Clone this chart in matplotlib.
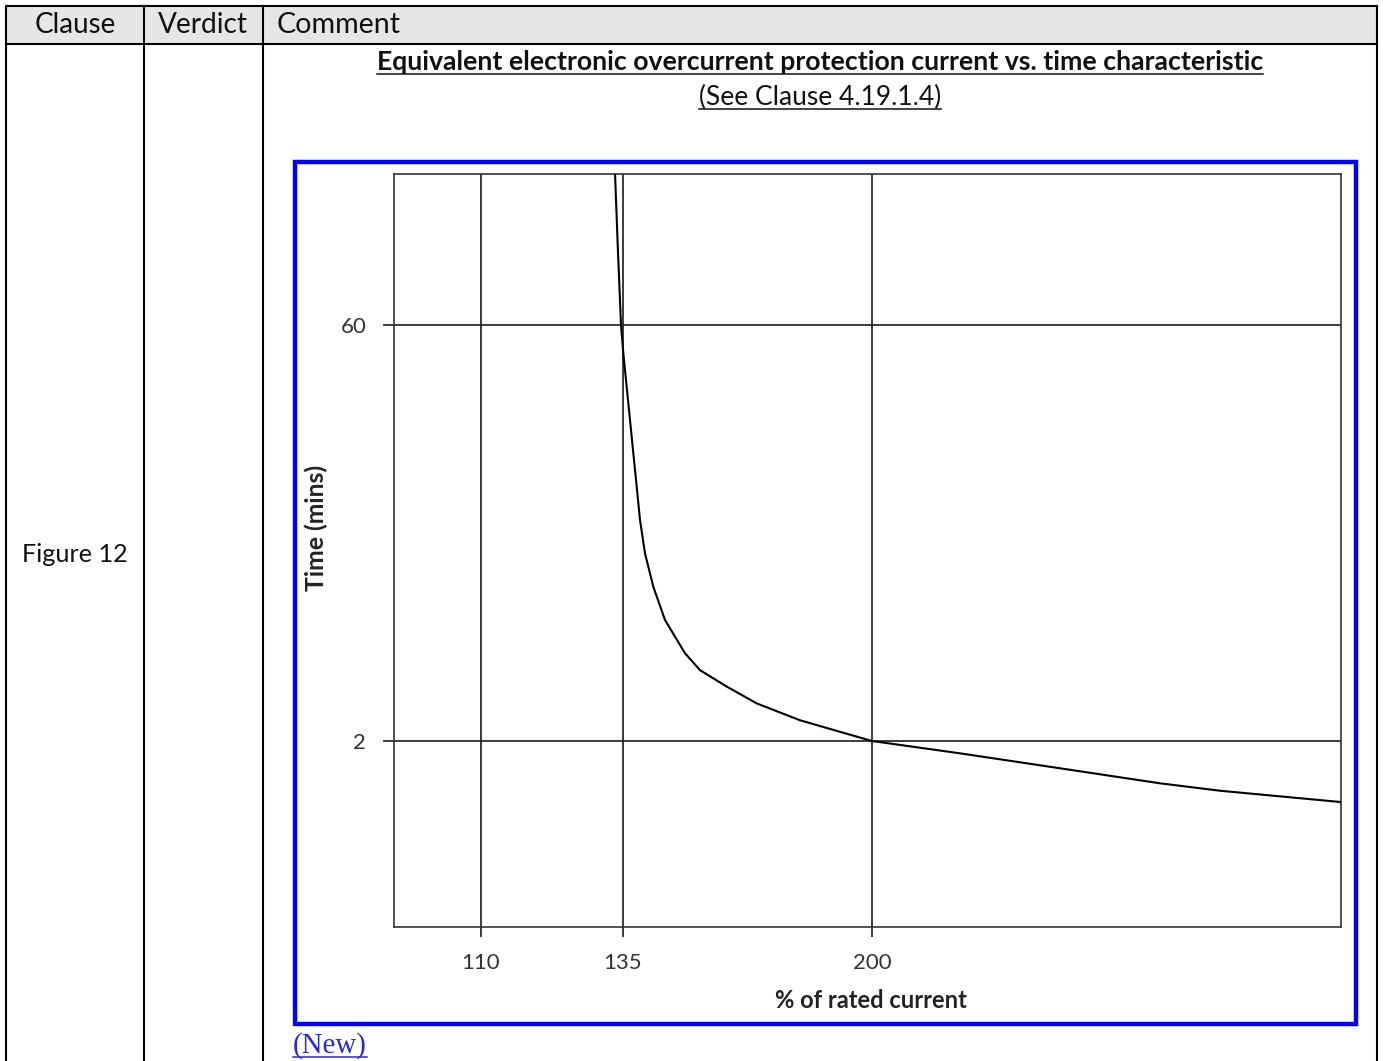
import numpy as np
import matplotlib.pyplot as plt
from matplotlib.patches import Rectangle
from matplotlib.ticker import NullLocator, FixedLocator, FixedFormatter

# readings: % of rated current vs trip time (minutes)
current_pct = [133.6, 134.1, 134.65, 135.09, 135.96, 136.83, 137.7, 138.58,
               139.44, 140.74, 142.91, 145.96, 151.18, 155.1, 162.1, 169.9,
               181.2, 189.9, 200.0, 223.0, 249.1, 275.2, 290.8, 322.4]
time_min = [206, 111, 60, 47.6, 36.2, 27.6, 21.0, 16.0,
            12.19, 9.28, 7.06, 5.38, 4.10, 3.57, 3.12, 2.72,
            2.37, 2.19, 2.0, 1.808, 1.60, 1.415, 1.332, 1.214]

x_ticks = [110, 135, 200]
y_ticks = [2, 60]

headers = ['Clause', 'Verdict', 'Comment']
title = 'Equivalent electronic overcurrent protection current vs. time characteristic'
subtitle = '(See Clause 4.19.1.4)'
clause_text = 'Figure 12'

W, H = 1383, 1061
FONT = 'Lato'


def fwd(v):
    # schematic current axis: 110-135 stretched, linear above 135
    v = np.asarray(v, dtype=float)
    return np.where(v < 135, 623 + (v - 135) * 142 / 25, 623 + (v - 135) * 249 / 65)


def inv(p):
    p = np.asarray(p, dtype=float)
    return np.where(p < 623, 135 + (p - 623) * 25 / 142, 135 + (p - 623) * 65 / 249)


fig = plt.figure(figsize=(W / 100, H / 100), dpi=100)
page = fig.add_axes([0, 0, 1, 1])
page.set_xlim(0, W)
page.set_ylim(H, 0)
page.axis('off')

# table
page.add_patch(Rectangle((6, 6), 1371, 38, fc='#e6e6e6', ec='none'))
for y in (6, 44):
    page.plot([6, 1377], [y, y], color='black', lw=1.5, solid_capstyle='projecting')
for x in (6, 144, 263, 1377):
    page.plot([x, x], [6, H + 5], color='black', lw=1.5)

renderer = fig.canvas.get_renderer()


def fit(t, target, vertical=False):
    bb = t.get_window_extent(renderer)
    w = bb.height if vertical else bb.width
    t.set_fontsize(t.get_fontsize() * target / w)


def underline(t, y, color):
    bb = t.get_window_extent(renderer)
    page.plot([bb.x0, bb.x1], [y, y], color=color, lw=1.1)


h1 = page.text(75, 25, headers[0], ha='center', va='center', fontsize=17, family=FONT, color='#111')
fit(h1, 81)
h2 = page.text(203, 25, headers[1], ha='center', va='center', fontsize=17, family=FONT, color='#111')
fit(h2, 90)
h3 = page.text(277, 25, headers[2], ha='left', va='center', fontsize=17, family=FONT, color='#111')
fit(h3, 124)

fg = page.text(75, 554, clause_text, ha='center', va='center', fontsize=17, family=FONT, color='#111')
fit(fg, 106)

tt = page.text(820, 70, title, ha='center', va='baseline', fontsize=16, family=FONT,
               fontweight='bold', color='#111')
fit(tt, 888)
underline(tt, 74, '#111')
st = page.text(820, 105, subtitle, ha='center', va='baseline', fontsize=16, family=FONT, color='#111')
fit(st, 242)
underline(st, 109, '#111')

nw = page.text(293, 1053, '(New)', ha='left', va='baseline', fontsize=16,
               family='Liberation Serif', color='#2a2ad0')
fit(nw, 74)
underline(nw, 1057, '#2a2ad0')

# blue frame round the figure
page.add_patch(Rectangle((295, 162), 1061, 862, fill=False, ec='#0000ff', lw=3.2))

# chart
ax = fig.add_axes([394 / W, 1 - 927 / H, 947 / W, 753 / H])
ax.set_xscale('function', functions=(fwd, inv))
ax.set_yscale('log')
ax.set_xlim(inv(394), inv(1341))
ax.set_ylim(2 / 10 ** ((927 - 741) / 281.6), 2 * 10 ** ((741 - 174) / 281.6))

ax.plot(current_pct, time_min, color='black', lw=1.5, zorder=3,
        solid_joinstyle='round', solid_capstyle='round')

ax.xaxis.set_major_locator(FixedLocator(x_ticks))
ax.xaxis.set_major_formatter(FixedFormatter([str(v) for v in x_ticks]))
ax.yaxis.set_major_locator(FixedLocator(y_ticks))
ax.yaxis.set_major_formatter(FixedFormatter([str(v) for v in y_ticks]))
ax.xaxis.set_minor_locator(NullLocator())
ax.yaxis.set_minor_locator(NullLocator())

ax.grid(True, color='#1a1a1a', lw=1.2)
ax.set_axisbelow(True)
for s in ax.spines.values():
    s.set_color('#333')
    s.set_linewidth(1.2)
ax.tick_params(axis='y', direction='out', length=8, width=1.2, color='#1a1a1a', pad=12,
               labelsize=16, labelcolor='#333')
ax.tick_params(axis='x', direction='out', length=7, width=1.2, color='#1a1a1a', pad=12,
               labelsize=16, labelcolor='#333')
for lab in ax.get_xticklabels() + ax.get_yticklabels():
    lab.set_family(FONT)

xl = ax.set_xlabel('% of rated current', family=FONT, fontweight='bold', fontsize=15, color='#222')
xl.set_va('center')
ax.xaxis.set_label_coords(0.5 + (871 - 867.5) / 947, -(1001 - 927) / 753)
yl = ax.set_ylabel('Time (mins)', family=FONT, fontweight='bold', fontsize=14, color='#222')
yl.set_va('center')
ax.yaxis.set_label_coords((316 - 394) / 947, 1 - (528 - 174) / 753)
fit(xl, 193)
fit(yl, 127, vertical=True)

fig.savefig('out.png', dpi=100)
